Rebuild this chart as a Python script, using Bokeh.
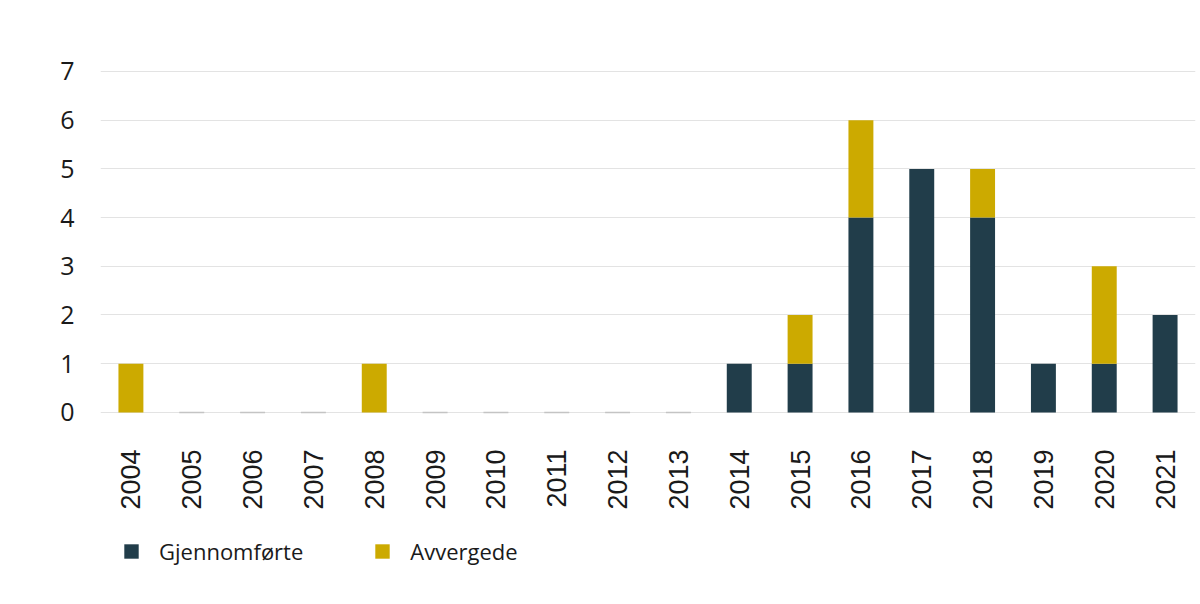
import math
from bokeh.plotting import figure
from bokeh.models import ColumnDataSource, Legend, LegendItem, FixedTicker
from bokeh.embed import file_html
from bokeh.resources import INLINE

years = ["2004", "2005", "2006", "2007", "2008", "2009", "2010", "2011", "2012",
         "2013", "2014", "2015", "2016", "2017", "2018", "2019", "2020", "2021"]
gjennomforte = [0, 0, 0, 0, 0, 0, 0, 0, 0, 0, 1, 1, 4, 5, 4, 1, 1, 2]
avvergede = [1, 0, 0, 0, 1, 0, 0, 0, 0, 0, 0, 1, 2, 0, 1, 0, 2, 0]
y_ticks = [0, 1, 2, 3, 4, 5, 6, 7]

DARK = "#213d4a"
GOLD = "#ccaa00"

totals = [g + a for g, a in zip(gjennomforte, avvergede)]
zero_alpha = [1.0 if t == 0 else 0.0 for t in totals]

src = ColumnDataSource(dict(
    year=years,
    g=gjennomforte,
    a=avvergede,
    a_top=totals,
    zero=[0] * len(years),
    zero_alpha=zero_alpha,
))

# frame extends below the baseline so the year labels and the legend live inside it
p = figure(x_range=years, y_range=(-3.78, 7.02), frame_width=1095, frame_height=526,
           output_backend="svg", toolbar_location=None,
           min_border_top=70, min_border_left=100, min_border_right=1,
           min_border_bottom=0,
           background_fill_color="white", border_fill_color="white")
p.outline_line_color = None
p.x_range.range_padding = 0

p.ygrid.ticker = FixedTicker(ticks=y_ticks)
p.yaxis.ticker = FixedTicker(ticks=y_ticks)
p.ygrid.grid_line_color = "#e3e3e3"
p.ygrid.grid_line_width = 1
p.xgrid.grid_line_color = None

# zero-value markers on the baseline
p.vbar(x="year", top="zero", bottom="zero", width=0.41, source=src,
       fill_alpha=0, line_color="#c4c4c4", line_alpha="zero_alpha", line_width=1.5)

r1 = p.vbar(x="year", bottom=0, top="g", width=0.41, source=src,
            fill_color=DARK, line_color=None)
r2 = p.vbar(x="year", bottom="g", top="a_top", width=0.41, source=src,
            fill_color=GOLD, line_color=None)

for ax in (p.xaxis, p.yaxis):
    ax.axis_line_color = None
    ax.major_tick_line_color = None
    ax.minor_tick_line_color = None
    ax.major_label_text_color = "#1a1a1a"

p.yaxis.major_label_text_font = "Open Sans"
p.yaxis.major_label_text_font_size = "25px"
p.yaxis.major_label_standoff = 20

p.xaxis.fixed_location = 0
p.xaxis.major_label_text_font = "Liberation Sans"
p.xaxis.major_label_text_font_size = "27px"
p.xaxis.major_label_orientation = math.pi / 2
p.xaxis.major_label_standoff = 31

legend = Legend(items=[LegendItem(label="Gjennomførte", renderers=[r1]),
                       LegendItem(label="Avvergede", renderers=[r2])],
                orientation="horizontal", location=(22, 30),
                spacing=70, label_standoff=19, glyph_width=18, glyph_height=18,
                label_text_font="Open Sans", label_text_font_size="22px",
                label_text_color="#1a1a1a",
                border_line_color=None, background_fill_alpha=0,
                padding=0, margin=0)
p.add_layout(legend, "center")

open("out.html", "w").write(file_html(p, INLINE))
